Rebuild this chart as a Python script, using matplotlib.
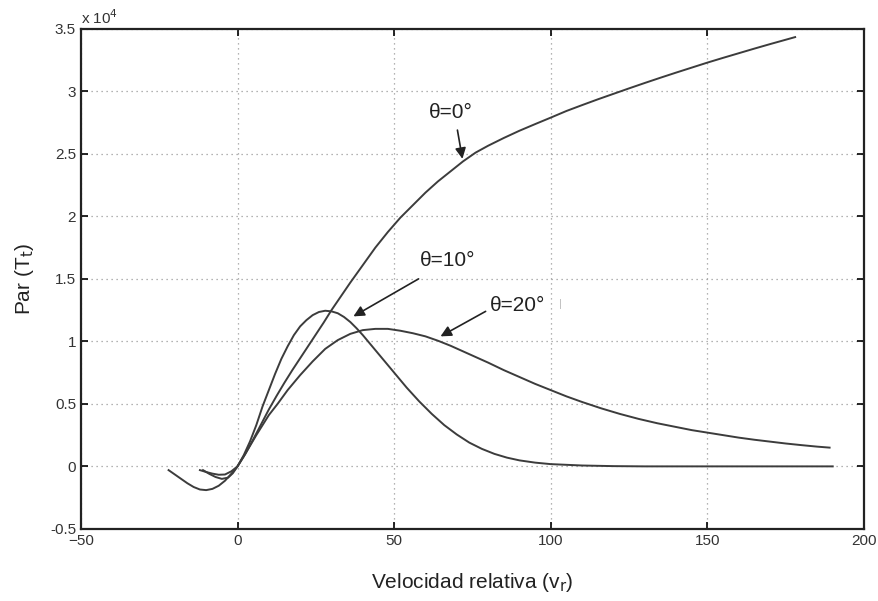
import matplotlib
matplotlib.use('Agg')
import matplotlib.pyplot as plt
from matplotlib.ticker import FormatStrFormatter

plt.rcParams['font.family'] = ['Liberation Sans', 'DejaVu Sans']

# torque curves, values in units of 1e4
x_t0 = [-12, -10, -8, -6, -4, -2, 0, 2.5, 5, 7.5, 10, 12.5, 15, 17.5, 20,
        22.5, 25, 27.5, 30, 33, 36, 40, 44, 48, 52, 56, 60, 64, 68, 72, 76,
        80, 85, 90, 95, 100, 105, 110, 115, 120, 125, 130, 135, 140, 145,
        150, 155, 160, 165, 170, 175, 178]
y_t0 = [-0.03, -0.045, -0.058, -0.067, -0.065, -0.04, 0.0, 0.1, 0.215,
        0.335, 0.455, 0.565, 0.67, 0.77, 0.865, 0.96, 1.055, 1.15, 1.25,
        1.36, 1.47, 1.61, 1.75, 1.875, 1.99, 2.09, 2.19, 2.28, 2.36, 2.44,
        2.51, 2.565, 2.627, 2.685, 2.738, 2.79, 2.843, 2.89, 2.936, 2.98,
        3.024, 3.067, 3.109, 3.15, 3.19, 3.23, 3.268, 3.305, 3.342, 3.378,
        3.413, 3.434]

x_t10 = [-11, -9, -7, -5, -3, -1.5, 0, 2, 4, 6, 8, 10, 12, 14, 16, 18, 20,
         22, 24, 26, 28, 30, 32, 34, 36, 38, 40, 43, 46, 50, 54, 58, 62, 66,
         70, 74, 78, 82, 86, 90, 95, 100, 110, 120, 130, 190]
y_t10 = [-0.03, -0.06, -0.085, -0.1, -0.09, -0.055, 0.0, 0.09, 0.2, 0.33,
         0.48, 0.61, 0.74, 0.86, 0.96, 1.05, 1.12, 1.17, 1.21, 1.235, 1.245,
         1.24, 1.225, 1.195, 1.155, 1.105, 1.05, 0.96, 0.87, 0.75, 0.63,
         0.52, 0.42, 0.33, 0.255, 0.19, 0.14, 0.1, 0.07, 0.048, 0.03, 0.018,
         0.007, 0.002, 0.0, 0.0]

x_t20 = [-22, -20, -18, -16, -14, -12, -10, -8, -6, -4, -2, 0, 2, 4, 6, 8,
         10, 12.8, 16, 20, 24, 28, 32, 36, 40, 44, 48, 52, 56, 60, 64, 68,
         72, 76, 80, 85, 90, 95, 100, 105, 110, 116, 122, 128, 134, 140, 145,
         150, 155, 160, 165, 170, 175, 180, 185, 189]
y_t20 = [-0.03, -0.065, -0.1, -0.135, -0.165, -0.185, -0.19, -0.18, -0.155,
         -0.115, -0.06, 0.0, 0.08, 0.165, 0.25, 0.33, 0.41, 0.5, 0.61, 0.73,
         0.84, 0.94, 1.01, 1.06, 1.09, 1.10, 1.10, 1.085, 1.065, 1.04, 1.005,
         0.965, 0.92, 0.875, 0.83, 0.77, 0.715, 0.66, 0.61, 0.56, 0.515,
         0.465, 0.42, 0.38, 0.345, 0.315, 0.29, 0.27, 0.25, 0.23, 0.213,
         0.198, 0.183, 0.17, 0.158, 0.15]

x_ticks = [-50, 0, 50, 100, 150, 200]
y_ticks = [-0.5, 0, 0.5, 1, 1.5, 2, 2.5, 3, 3.5]

line_color = '#3c3c3c'

fig = plt.figure(figsize=(8.79, 6.01), dpi=100)
ax = fig.add_axes([0.092, 0.120, 0.891, 0.832])

for xs, ys in [(x_t0, y_t0), (x_t10, y_t10), (x_t20, y_t20)]:
    ax.plot(xs, ys, color=line_color, lw=1.4, solid_joinstyle='round')

ax.set_xlim(-50, 200)
ax.set_ylim(-0.5, 3.5)
ax.set_xticks(x_ticks)
ax.set_yticks(y_ticks)
ax.yaxis.set_major_formatter(FormatStrFormatter('%g'))
ax.grid(True, linestyle=(0, (1, 3)), color='#9a9a9a', lw=0.9)
ax.tick_params(direction='in', top=True, right=True, length=5, width=1.2,
               labelsize=11, labelcolor='#333333')
for sp in ax.spines.values():
    sp.set_linewidth(1.6)
    sp.set_color('#222222')

ax.text(0.0, 1.003, r'x 10$^{4}$', transform=ax.transAxes, fontsize=11,
        color='#333333', ha='left', va='bottom')

ax.set_xlabel('Velocidad relativa (v$_\\mathrm{r}$)', fontsize=15,
              color='#222222', labelpad=17)
ax.set_ylabel('Par (T$_\\mathrm{t}$)', fontsize=15, color='#222222',
              labelpad=10)

arrow = dict(arrowstyle='-|>', color='#222222', lw=1.2, mutation_scale=16,
             shrinkA=0, shrinkB=0)
ax.annotate('', xy=(71.8, 2.46), xytext=(70.2, 2.69), arrowprops=arrow)
ax.annotate('', xy=(37, 1.20), xytext=(57.8, 1.50), arrowprops=arrow)
ax.annotate('', xy=(64.8, 1.04), xytext=(79.2, 1.24), arrowprops=arrow)

ax.text(68, 2.83, 'θ=0°', fontsize=15, ha='center', va='center',
        color='#222222')
ax.text(67, 1.65, 'θ=10°', fontsize=15, ha='center', va='center',
        color='#222222')
ax.text(89.4, 1.29, 'θ=20°', fontsize=15, ha='center', va='center',
        color='#222222')
ax.text(103, 1.30, '|', fontsize=8, ha='center', va='center',
        color='#bbbbbb')

fig.savefig('out.png', dpi=100)
